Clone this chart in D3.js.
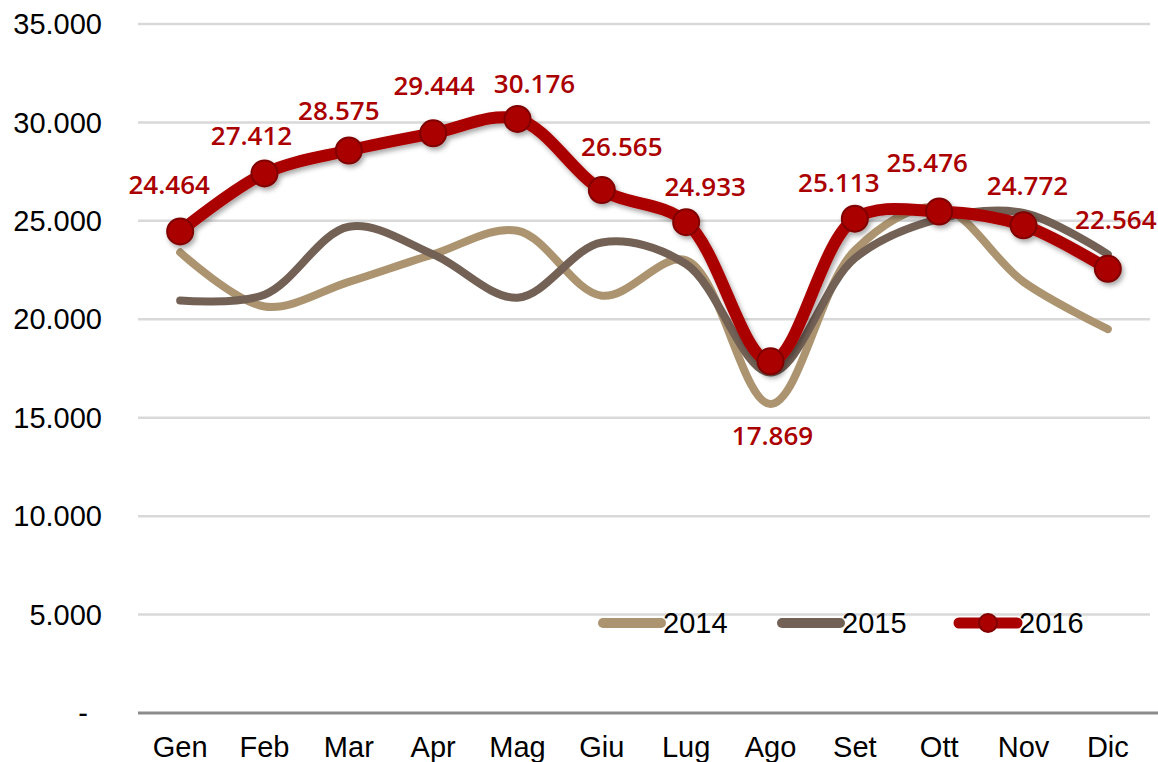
<!DOCTYPE html>
<html>
<head>
<meta charset="utf-8">
<script src="https://cdn.jsdelivr.net/npm/d3@7"></script>
<style>
  body { margin: 0; background: #fff; }
  svg { display: block; }
  .tick-lbl { font-family: "Liberation Sans", Arial, sans-serif; font-size: 29px; fill: #000; }
  .val-lbl { font-family: "Open Sans", sans-serif; font-size: 26px; font-weight: 600; fill: #AA0000; }
</style>
</head>
<body>
<div id="chart"></div>
<script>
// data
const months = ["Gen", "Feb", "Mar", "Apr", "Mag", "Giu", "Lug", "Ago", "Set", "Ott", "Nov", "Dic"];
const years = ["2014", "2015", "2016"];
const v2014 = [23400, 20650, 21900, 23300, 24500, 21200, 23000, 15700, 23500, 25700, 21900, 19500];
const v2015 = [20950, 21250, 24700, 23300, 21100, 23900, 22800, 17300, 23100, 25100, 25400, 23300];
const v2016 = [24464, 27412, 28575, 29444, 30176, 26565, 24933, 17869, 25113, 25476, 24772, 22564];
const yTicks = [0, 5000, 10000, 15000, 20000, 25000, 30000, 35000];

// label nudges for the 2016 values (x, y from marker)
const lblDx = [-11, -13, -10, 1, 17, 20, 19, 2, -16, -12, 4, 8];
const lblDy = [-37, -28, -30, -38, -26, -34, -26, 84, -27, -39, -30, -40];

const svgWidth = 1158, svgHeight = 762;
const plot = { left: 138, right: 1150, top: 24, bottom: 713 };

const svg = d3.select("#chart").append("svg")
  .attr("width", svgWidth)
  .attr("height", svgHeight);

const defs = svg.append("defs");
const shadow = defs.append("filter").attr("id", "shadow")
  .attr("x", "-20%").attr("y", "-20%").attr("width", "140%").attr("height", "140%");
shadow.append("feDropShadow")
  .attr("dx", 2).attr("dy", 3).attr("stdDeviation", 2.5)
  .attr("flood-color", "#000").attr("flood-opacity", 0.35);

const x = d3.scaleBand().domain(months).range([plot.left, plot.right]);
const y = d3.scaleLinear().domain([0, 35000]).range([plot.bottom, plot.top]);
const cx = m => x(m) + x.bandwidth() / 2;

const fmt = v => v === 0 ? "-" : d3.format(",")(v).replace(/,/g, ".");

// gridlines
svg.append("g").selectAll("line")
  .data(yTicks.filter(d => d > 0))
  .enter().append("line")
  .attr("x1", plot.left).attr("x2", plot.right)
  .attr("y1", d => y(d)).attr("y2", d => y(d))
  .attr("stroke", "#d9d9d9").attr("stroke-width", 2.5);

// y labels
svg.append("g").selectAll("text")
  .data(yTicks)
  .enter().append("text")
  .attr("class", "tick-lbl")
  .attr("x", d => d === 0 ? 88 : 102)
  .attr("y", d => y(d))
  .attr("dy", "0.35em")
  .attr("text-anchor", "end")
  .text(fmt);

// x axis
svg.append("line")
  .attr("x1", plot.left).attr("x2", svgWidth)
  .attr("y1", y(0)).attr("y2", y(0))
  .attr("stroke", "#8c8c8c").attr("stroke-width", 3);

svg.append("g").selectAll("text")
  .data(months)
  .enter().append("text")
  .attr("class", "tick-lbl")
  .attr("x", d => cx(d))
  .attr("y", 757)
  .attr("text-anchor", "middle")
  .text(d => d);

const line = d3.line()
  .x((d, i) => cx(months[i]))
  .y(d => y(d))
  .curve(d3.curveCatmullRom.alpha(0.5));

svg.append("path").datum(v2014)
  .attr("d", line).attr("fill", "none")
  .attr("stroke", "#AC9470").attr("stroke-width", 8).attr("stroke-linecap", "round");

svg.append("path").datum(v2015)
  .attr("d", line).attr("fill", "none")
  .attr("stroke", "#736156").attr("stroke-width", 8).attr("stroke-linecap", "round");

const g16 = svg.append("g").attr("filter", "url(#shadow)");
g16.append("path").datum(v2016)
  .attr("d", line).attr("fill", "none")
  .attr("stroke", "#AA0000").attr("stroke-width", 12).attr("stroke-linecap", "round");

g16.selectAll("circle")
  .data(v2016)
  .enter().append("circle")
  .attr("cx", (d, i) => cx(months[i]))
  .attr("cy", d => y(d))
  .attr("r", 13)
  .attr("fill", "#AA0000")
  .attr("stroke", "#800000").attr("stroke-width", 2);

svg.append("g").selectAll("text")
  .data(v2016)
  .enter().append("text")
  .attr("class", "val-lbl")
  .attr("x", (d, i) => cx(months[i]) + lblDx[i])
  .attr("y", (d, i) => y(d) + lblDy[i])
  .attr("text-anchor", "middle")
  .text(fmt);

// legend
const legX = [603, 782, 959];
const legColors = ["#AC9470", "#736156", "#AA0000"];
const leg = svg.append("g").selectAll("g")
  .data(years)
  .enter().append("g")
  .attr("transform", (d, i) => `translate(${legX[i]}, 623)`);

leg.append("line")
  .attr("x1", 0).attr("x2", 58).attr("y1", 0).attr("y2", 0)
  .attr("stroke", (d, i) => legColors[i])
  .attr("stroke-width", (d, i) => i === 2 ? 11 : 10)
  .attr("stroke-linecap", "round");

leg.filter((d, i) => i === 2).append("circle")
  .attr("cx", 29).attr("cy", 0).attr("r", 9)
  .attr("fill", "#AA0000").attr("stroke", "#800000").attr("stroke-width", 2);

leg.append("text")
  .attr("class", "tick-lbl")
  .attr("x", 60)
  .attr("y", 0)
  .attr("dy", "0.36em")
  .text(d => d);
</script>
</body>
</html>
